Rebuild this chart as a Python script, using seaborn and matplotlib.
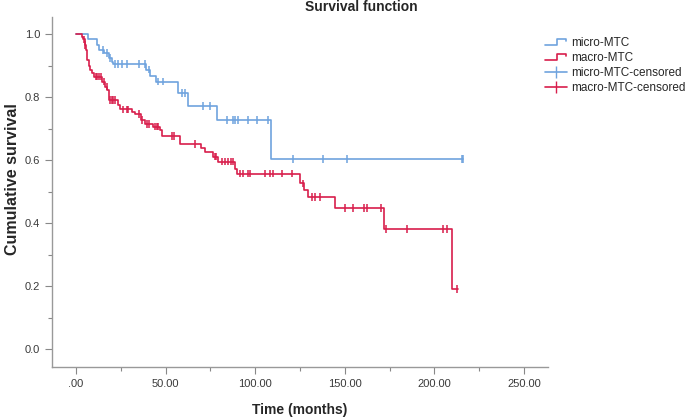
import numpy as np
import pandas as pd
import seaborn as sns
import matplotlib.pyplot as plt
import matplotlib.ticker as ticker
from matplotlib.lines import Line2D
from matplotlib.legend_handler import HandlerLine2D

# step times (months) and survival after each drop
micro_event_t = [6.9, 11.5, 13.0, 15.5, 18.5, 20.0, 20.8, 39.0, 41.5, 44.5, 57.1, 62.7, 78.5, 108.8]
micro_event_s = [0.983, 0.965, 0.949, 0.939, 0.923, 0.912, 0.904, 0.887, 0.868, 0.849, 0.812, 0.771, 0.727, 0.604]
micro_end = 216.0
micro_cens = [15.2, 17.1, 19.0, 21.8, 23.6, 25.5, 28.3, 35.2, 38.5, 40.9, 45.5, 48.7, 59.0, 60.9,
              71.0, 74.8, 84.1, 87.8, 88.7, 90.6, 96.2, 100.8, 107.3, 120.9, 138.0, 151.0, 215.2, 215.9]

macro_event_t = [3.2, 4.0, 5.0, 5.5, 6.0, 7.1, 8.0, 9.0, 10.0, 14.7, 16.0, 17.5, 18.5, 23.6, 24.5,
                 31.0, 33.0, 36.0, 38.5, 43.0, 47.0, 48.0, 58.0, 70.0, 72.0, 76.6, 79.0, 88.7, 89.6,
                 125.0, 127.4, 129.6, 144.5, 171.9, 210.0]
macro_event_s = [0.992, 0.983, 0.966, 0.949, 0.917, 0.90, 0.886, 0.875, 0.865, 0.849, 0.833, 0.822,
                 0.79, 0.775, 0.761, 0.753, 0.746, 0.727, 0.714, 0.706, 0.695, 0.676, 0.651, 0.637,
                 0.626, 0.611, 0.595, 0.573, 0.557, 0.526, 0.505, 0.482, 0.447, 0.381, 0.19]
macro_end = 213.0
macro_cens = [4.5, 5.2, 10.9, 11.9, 12.8, 13.7, 15.5, 17.1, 19.0, 20.0, 20.8, 21.8, 26.4, 28.3, 29.2,
              35.2, 37.0, 39.5, 40.5, 44.0, 45.0, 46.0, 53.8, 54.7, 66.4, 77.6, 78.0, 81.3, 83.2,
              85.0, 86.3, 87.4, 91.5, 93.0, 96.2, 97.1, 105.5, 108.3, 110.1, 114.8, 120.4, 126.5,
              131.5, 133.4, 136.2, 150.1, 154.7, 160.7, 162.2, 170.0, 173.0, 184.9, 205.0, 206.9, 212.8]

groups = ["micro-MTC", "macro-MTC"]
colors = {"micro-MTC": "#6fa3de", "macro-MTC": "#d81e4c"}

def surv_at(t, et, es):
    s = 1.0
    for a, b in zip(et, es):
        if a <= t:
            s = b
    return s

rows = []
crows = []
for g, et, es, end, cens in [("micro-MTC", micro_event_t, micro_event_s, micro_end, micro_cens),
                             ("macro-MTC", macro_event_t, macro_event_s, macro_end, macro_cens)]:
    ts = [0.0] + et + [end]
    ss = [1.0] + es + [es[-1]]
    for t, s in zip(ts, ss):
        rows.append({"time": t, "surv": s, "group": g})
    for t in cens:
        crows.append({"time": t, "surv": surv_at(t, et, es), "group": g})
df = pd.DataFrame(rows)
cdf = pd.DataFrame(crows)

sns.set_style("white")
plt.rcParams['font.family'] = ['Liberation Sans', 'DejaVu Sans']

fig = plt.figure(figsize=(6.85, 4.19), dpi=100)
ax = fig.add_axes([52 / 685, 52 / 419, 496 / 685, 350 / 419])

sns.lineplot(data=df, x="time", y="surv", hue="group", palette=colors, estimator=None,
             sort=False, drawstyle="steps-post", linewidth=1.2, legend=False, ax=ax)
sns.scatterplot(data=cdf, x="time", y="surv", hue="group", palette=colors, marker="|",
                s=30, linewidth=1.1, legend=False, ax=ax)

ax.set_xlim(-13.4, 263.4)
ax.set_ylim(-0.057, 1.054)
ax.xaxis.set_major_locator(ticker.MultipleLocator(50))
ax.xaxis.set_minor_locator(ticker.MultipleLocator(25))
ax.yaxis.set_major_locator(ticker.MultipleLocator(0.2))
ax.yaxis.set_minor_locator(ticker.MultipleLocator(0.1))
ax.xaxis.set_major_formatter(ticker.FuncFormatter(lambda v, p: ("%.2f" % v).lstrip("0") if v == 0 else "%.2f" % v))
ax.yaxis.set_major_formatter(ticker.FormatStrFormatter("%.1f"))
ax.tick_params(which="major", length=5, width=0.8, color="#888888", labelsize=8, labelcolor="#3a3a3a")
ax.tick_params(which="minor", length=3, width=0.8, color="#888888")
ax.tick_params(axis="x", which="both", bottom=True)
ax.tick_params(axis="y", which="both", left=True)
for side in ["top", "right"]:
    ax.spines[side].set_visible(False)
for side in ["left", "bottom"]:
    ax.spines[side].set_color("#999999")
    ax.spines[side].set_linewidth(1.0)
ax.set_xlabel("")
ax.set_ylabel("")

fig.text(361 / 685, 1 - 7 / 419, "Survival function", ha="center", va="center",
         fontsize=10, fontweight="bold")
fig.text(300 / 685, 1 - 410 / 419, "Time (months)", ha="center", va="center",
         fontsize=10, fontweight="bold")
fig.text(13 / 685, 1 - 179 / 419, "Cumulative survival", ha="center", va="center",
         rotation=90, fontsize=11.5, fontweight="bold")


class StepHandler(HandlerLine2D):
    def create_artists(self, legend, orig_handle, xdescent, ydescent, width, height, fontsize, trans):
        x0, x1 = -xdescent, -xdescent + width
        xm = x0 + width * 0.55
        yl, yh = -ydescent + height * 0.15, -ydescent + height * 0.85
        line = Line2D([x0, xm, xm, x1 - 1, x1 - 1], [yl, yl, yh, yh, yh - height * 0.3],
                      color=orig_handle.get_color(), linewidth=1.2)
        line.set_transform(trans)
        return [line]


h_micro = Line2D([], [], color=colors["micro-MTC"], linewidth=1.2)
h_macro = Line2D([], [], color=colors["macro-MTC"], linewidth=1.2)
h_mc = Line2D([], [], color=colors["micro-MTC"], linewidth=1.2, marker="|", markersize=9)
h_Mc = Line2D([], [], color=colors["macro-MTC"], linewidth=1.2, marker="|", markersize=9)
fig.legend([h_micro, h_macro, h_mc, h_Mc],
           ["micro-MTC", "macro-MTC", "micro-MTC-censored", "macro-MTC-censored"],
           handler_map={h_micro: StepHandler(), h_macro: StepHandler()},
           loc="upper left", bbox_to_anchor=(545 / 685, 1 - 37 / 419), frameon=False,
           fontsize=8.5, handlelength=1.9, handletextpad=0.3, labelspacing=0.25,
           borderaxespad=0, borderpad=0)

fig.savefig("out.png", dpi=100)
